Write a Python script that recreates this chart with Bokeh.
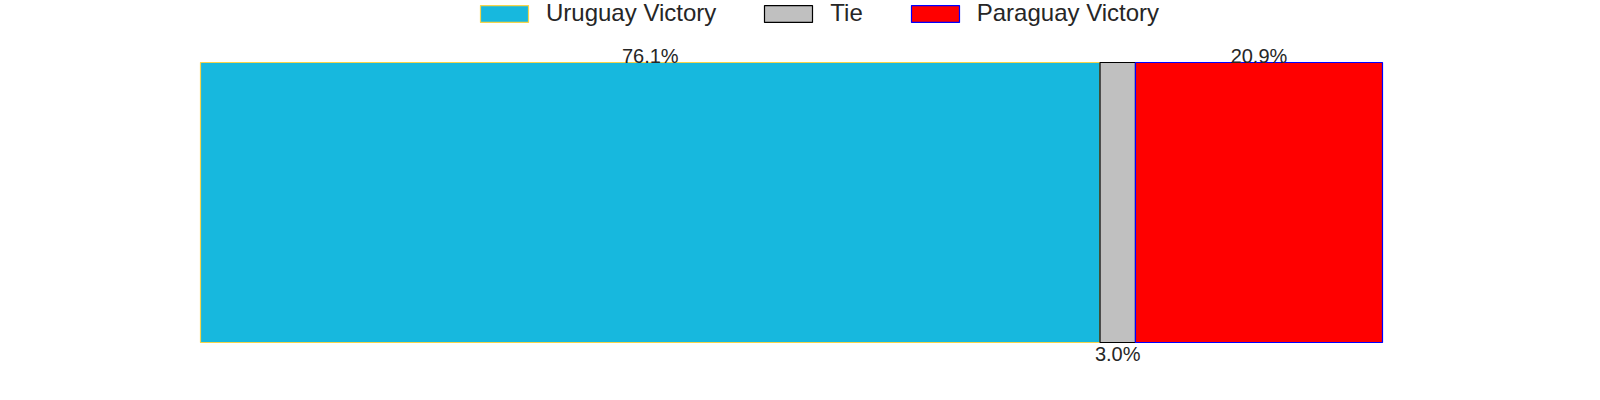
from bokeh.plotting import figure
from bokeh.models import ColumnDataSource, Legend, LegendItem, Range1d
from bokeh.core.properties import value
from bokeh.embed import file_html
from bokeh.resources import INLINE

categories = ["Uruguay Victory", "Tie", "Paraguay Victory"]
shares = [76.1, 3.0, 20.9]
labels = ["76.1%", "3.0%", "20.9%"]
fill_colors = ["#17b8de", "#c0c0c0", "#ff0000"]
line_colors = ["#f5d44a", "#000000", "#0000ff"]

lefts = []
acc = 0.0
for s in shares:
    lefts.append(acc)
    acc += s
rights = [l + s for l, s in zip(lefts, shares)]
centers = [(l + r) / 2 for l, r in zip(lefts, rights)]

W, H = 1584, 384
# pixel layout of the bar inside the figure
bar_px_left, bar_px_right, bar_px_top, bar_px_bottom = 200, 1382, 62, 342
ppu_x = (bar_px_right - bar_px_left) / acc
x0 = -bar_px_left / ppu_x
x1 = acc + (W - bar_px_right) / ppu_x
ppu_y = (bar_px_bottom - bar_px_top) / 1.0
y1 = 0.5 + bar_px_top / ppu_y
y0 = -0.5 - (H - bar_px_bottom) / ppu_y

p = figure(width=W, height=H, output_backend="svg", toolbar_location=None,
           x_range=Range1d(x0, x1), y_range=Range1d(y0, y1),
           min_border_left=0, min_border_right=0,
           min_border_top=0, min_border_bottom=0)
p.axis.visible = False
p.grid.visible = False
p.outline_line_color = None
p.background_fill_color = "white"
p.border_fill_color = "white"

renderers = []
for i, c in enumerate(categories):
    src = ColumnDataSource(dict(left=[lefts[i]], right=[rights[i]], y=[0]))
    r = p.hbar(y="y", left="left", right="right", height=1.0, source=src,
               fill_color=fill_colors[i], line_color=line_colors[i], line_width=1.2)
    renderers.append(r)

top_src = ColumnDataSource(dict(x=[centers[0], centers[2]], y=[0.5, 0.5],
                                t=[labels[0], labels[2]]))
p.text(x="x", y="y", text="t", source=top_src, text_align="center",
       text_baseline="bottom", text_font=value("Liberation Sans"),
       text_font_size="20px", text_color="#262626", y_offset=4)
bot_src = ColumnDataSource(dict(x=[centers[1]], y=[-0.5], t=[labels[1]]))
p.text(x="x", y="y", text="t", source=bot_src, text_align="center",
       text_baseline="top", text_font=value("Liberation Sans"),
       text_font_size="20px", text_color="#262626", y_offset=0)

legend = Legend(items=[LegendItem(label=c, renderers=[r]) for c, r in zip(categories, renderers)],
                orientation="horizontal", location=(474, 357),
                glyph_width=60, glyph_height=21, label_standoff=12, spacing=42,
                padding=0, margin=0, border_line_alpha=0, background_fill_alpha=0,
                label_text_font="Liberation Sans", label_text_font_size="24px",
                label_text_color="#262626")
p.add_layout(legend, "center")

open("out.html", "w").write(file_html(p, INLINE))
